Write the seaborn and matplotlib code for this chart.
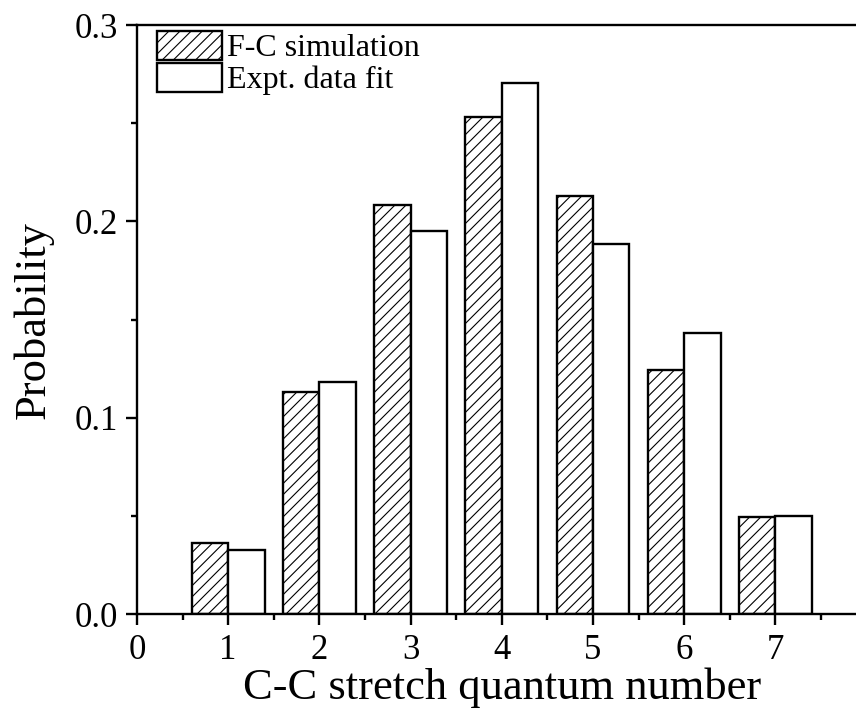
import matplotlib
matplotlib.use("Agg")
import matplotlib.pyplot as plt
import numpy as np
import pandas as pd
import seaborn as sns

# values
quantum = [1, 2, 3, 4, 5, 6, 7]
fc_sim = [0.0363, 0.113, 0.2084, 0.2533, 0.2129, 0.1243, 0.0495]
expt_fit = [0.0326, 0.118, 0.1951, 0.2703, 0.1885, 0.1433, 0.0500]
series = ["F-C simulation", "Expt. data fit"]
yticks = [0.0, 0.1, 0.2, 0.3]

df = pd.DataFrame({
    "n": quantum * 2,
    "p": fc_sim + expt_fit,
    "series": [series[0]] * len(quantum) + [series[1]] * len(quantum),
})

sns.set_style("ticks")
plt.rcParams['font.family'] = ['Liberation Serif', 'DejaVu Serif']
plt.rcParams['hatch.linewidth'] = 0.8
for k in ['text.color', 'axes.labelcolor', 'xtick.color', 'ytick.color', 'axes.edgecolor']:
    plt.rcParams[k] = 'black'

fig = plt.figure(figsize=(8.56, 7.25), dpi=100)
ax = fig.add_axes([0.160, 0.153, 0.8524, 0.8124])

sns.barplot(data=df, x="n", y="p", hue="series", native_scale=True,
            palette=["white", "white"], edgecolor="black", linewidth=1.7,
            width=0.8, gap=0, legend=False, ax=ax)

for bar in ax.containers[0]:
    bar.set_hatch("///")

ax.set_xlim(0, 8)
ax.set_ylim(0, 0.3)
ax.set_xticks(range(0, 8))
ax.set_xticks(np.arange(0.5, 8, 1), minor=True)
ax.set_yticks(yticks)
ax.set_yticks([0.05, 0.15, 0.25], minor=True)
ax.set_yticklabels([f"{v:.1f}" for v in yticks])

ax.tick_params(which="major", direction="out", length=8, width=1.7,
               labelsize=25, pad=6)
ax.tick_params(which="minor", direction="out", length=4, width=1.7)
for s in ax.spines.values():
    s.set_linewidth(1.7)

ax.set_xlabel("C-C stretch quantum number", fontsize=32, labelpad=1)
ax.set_ylabel("Probability", fontsize=32, labelpad=15)

handles = [ax.containers[0][0], ax.containers[1][0]]
ax.legend(handles, series, loc="upper left", bbox_to_anchor=(0.027, 0.99),
          frameon=False, fontsize=23, handlelength=2.05, handleheight=1.0,
          handletextpad=0.15, labelspacing=0.0, borderpad=0, borderaxespad=0)

fig.savefig("out.png", dpi=100)
